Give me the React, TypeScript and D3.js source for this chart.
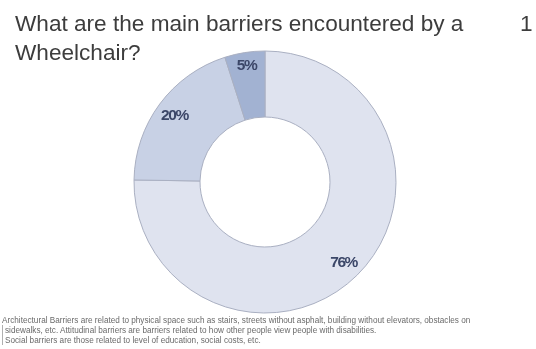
import React from "react";
import * as d3 from "d3";

const categories = ["Architectural barriers", "Attitudinal barriers", "Social barriers"];
const shares = [76, 20, 5];
const sliceLabels = ["76%", "20%", "5%"];
const titleLines = ["What are the main barriers encountered by a", "Wheelchair?"];
const pageNumber = "1";
const footnoteLines = [
  "Architectural Barriers are related to physical space such as stairs, streets without asphalt, building without elevators, obstacles on",
  "sidewalks, etc. Attitudinal barriers are barriers related to how other people view people with disabilities.",
  "Social barriers are those related to level of education, social costs, etc.",
];

const W = 536;
const H = 349;
const cx = 265;
const cy = 182;
const outerR = 131;
const innerR = 65;

const fills = ["#dfe3ef", "#c8d1e5", "#a2b2d2"];
const labelRadii = [0.855, 0.86, 0.91];

export default function App() {
  const pie = d3.pie<number>().sort(null).value((d) => d);
  const arcs = pie(shares);
  const arc = d3.arc<d3.PieArcDatum<number>>().innerRadius(innerR).outerRadius(outerR);

  return (
    <svg
      width={W}
      height={H}
      style={{ position: "absolute", left: 0, top: 0, background: "#fff" }}
      fontFamily="Liberation Sans, Arial, sans-serif"
    >
      <defs>
        <filter id="soft" x="-5%" y="-50%" width="110%" height="200%">
          <feGaussianBlur stdDeviation="0.7" />
        </filter>
        <filter id="softer" x="-5%" y="-50%" width="110%" height="200%">
          <feGaussianBlur stdDeviation="0.4" />
        </filter>
      </defs>
      <g fill="#3c3c3c" fontSize={22.6} filter="url(#softer)">
        {titleLines.map((t, i) => (
          <text key={i} x={15} y={31 + i * 28.5}>
            {t}
          </text>
        ))}
        <text x={520} y={31}>{pageNumber}</text>
      </g>
      <g transform={`translate(${cx},${cy})`}>
        {arcs.map((a, i) => (
          <path key={categories[i]} d={arc(a) || ""} fill={fills[i]} stroke="#aab0c2" strokeWidth={1} />
        ))}
        {arcs.map((a, i) => {
          const mid = (a.startAngle + a.endAngle) / 2;
          const r = outerR * labelRadii[i];
          return (
            <text
              key={i}
              x={Math.sin(mid) * r}
              y={-Math.cos(mid) * r}
              textAnchor="middle"
              dominantBaseline="central"
              fontSize={15.5}
              fontWeight="bold"
              letterSpacing={-1.4}
              fill="#3b4668"
              filter="url(#softer)"
            >
              {sliceLabels[i]}
            </text>
          );
        })}
      </g>
      <g fill="#6a6a6a" fontSize={8.2} filter="url(#soft)">
        {footnoteLines.map((t, i) => (
          <text key={i} x={i === 0 ? 2 : 5} y={322.5 + i * 10}>
            {t}
          </text>
        ))}
        <line x1={2.5} x2={2.5} y1={325} y2={345} stroke="#9a9a9a" strokeWidth={0.8} />
      </g>
    </svg>
  );
}
